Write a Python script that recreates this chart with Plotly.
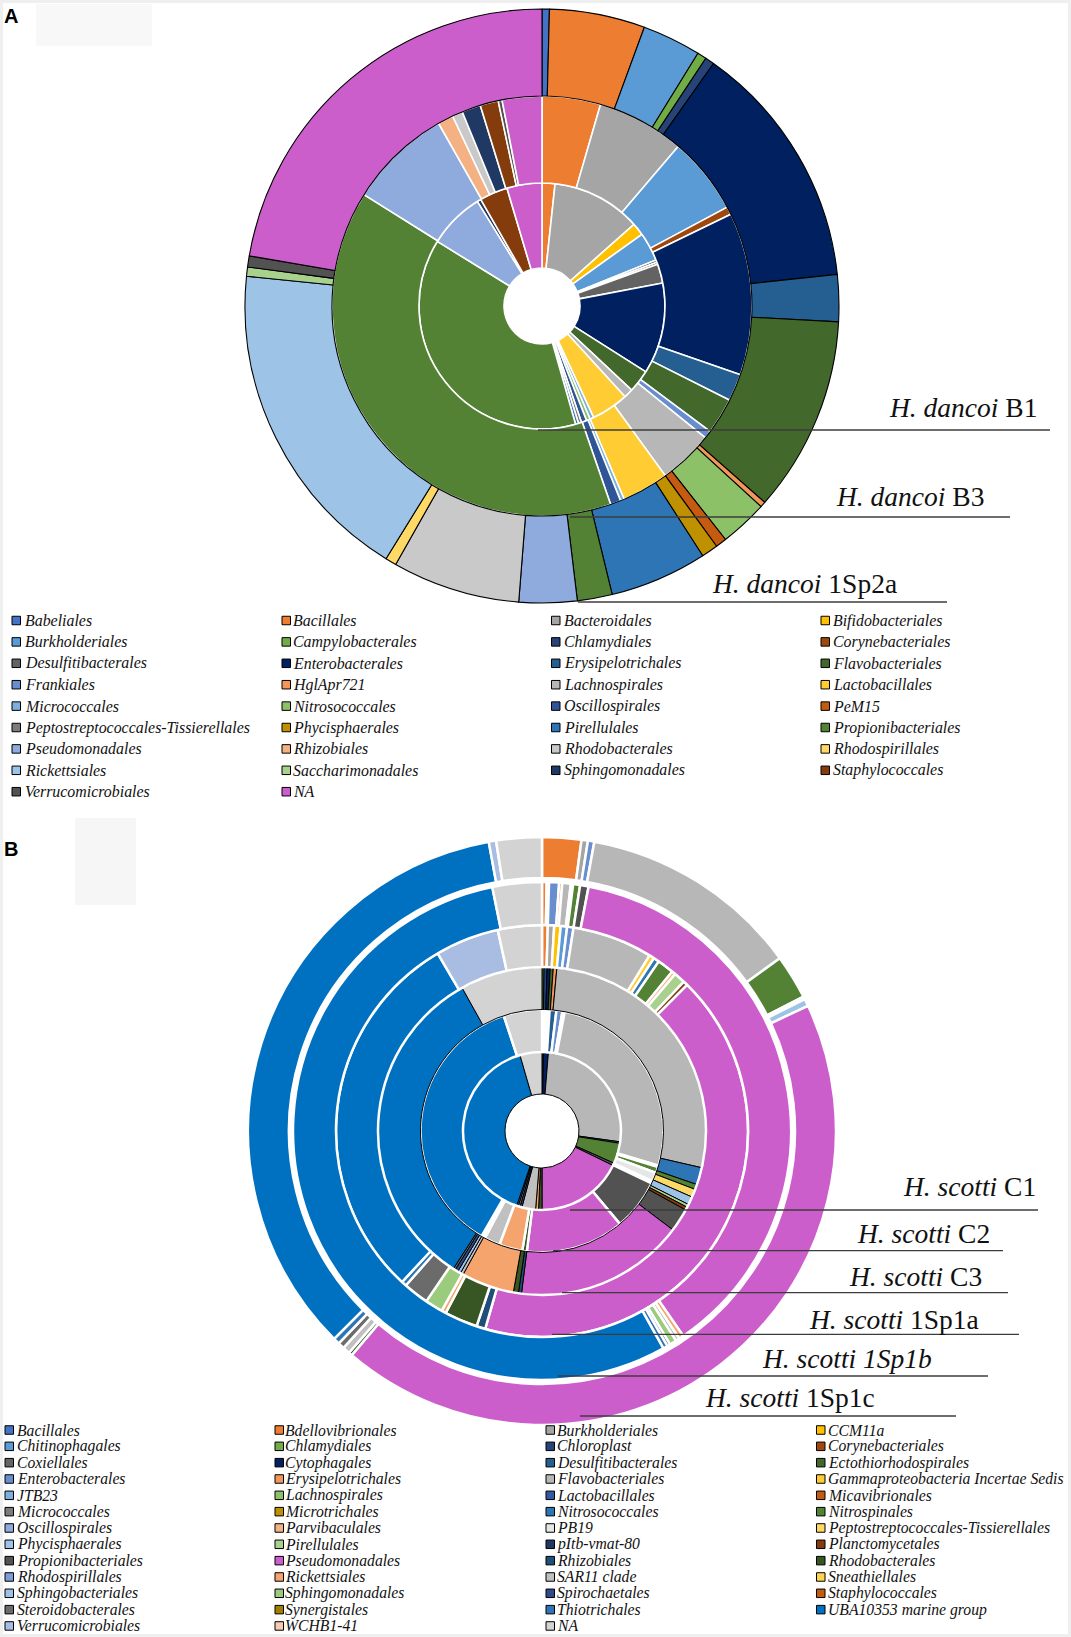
import plotly.graph_objects as go

W, H = 1071, 1637

# ------------------------------------------------------------------
# Panel A data (H. dancoi) : categories, colours, ring values (% of ring)
# ------------------------------------------------------------------
a_categories = ["Babeliales", "Bacillales", "Bacteroidales", "Bifidobacteriales",
                "Burkholderiales", "Campylobacterales", "Chlamydiales", "Corynebacteriales",
                "Desulfitibacterales", "Enterobacterales", "Erysipelotrichales", "Flavobacteriales",
                "Frankiales", "HglApr721", "Lachnospirales", "Lactobacillales",
                "Micrococcales", "Nitrosococcales", "Oscillospirales", "PeM15",
                "Peptostreptococcales-Tissierellales", "Phycisphaerales", "Pirellulales", "Propionibacteriales",
                "Pseudomonadales", "Rhizobiales", "Rhodobacterales", "Rhodospirillales",
                "Rickettsiales", "Saccharimonadales", "Sphingomonadales", "Staphylococcales",
                "Verrucomicrobiales", "NA"]
a_colors = ["#4472C4", "#ED7D31", "#A5A5A5", "#FFC000", "#5B9BD5", "#70AD47", "#264478", "#9E480E",
            "#636363", "#002060", "#255E91", "#43682B", "#698ED0", "#F1975A", "#B7B7B7", "#FFCD33",
            "#7CAFDD", "#8CC168", "#2F5597", "#C55A11", "#7B7B7B", "#BF9000", "#2E75B6", "#548235",
            "#8FAADC", "#F4B183", "#C9C9C9", "#FFD966", "#9DC3E6", "#A9D18E", "#203864", "#843C0C",
            "#525252", "#CC5ECC"]

b1_values = {"Bacillales": 1.7, "Bacteroidales": 11.75, "Bifidobacteriales": 1.65, "Burkholderiales": 3.8,
             "Chlamydiales": 0.3, "Corynebacteriales": 0.3, "Desulfitibacterales": 2.5,
             "Enterobacterales": 12.0, "Flavobacteriales": 3.0, "Lachnospirales": 1.2,
             "Lactobacillales": 4.9, "Micrococcales": 0.5, "Nitrosococcales": 0.5, "Oscillospirales": 0.7,
             "Peptostreptococcales-Tissierellales": 0.4, "Pirellulales": 0.4, "Propionibacteriales": 38.2,
             "Pseudomonadales": 7.4, "Sphingomonadales": 0.5, "Staphylococcales": 3.7, "NA": 4.6}
b3_values = {"Bacillales": 4.5, "Bacteroidales": 6.75, "Burkholderiales": 5.95, "Corynebacteriales": 0.6,
             "Enterobacterales": 12.5, "Erysipelotrichales": 2.1, "Flavobacteriales": 2.8, "Frankiales": 0.6,
             "Lachnospirales": 4.2, "Lactobacillales": 3.6, "Micrococcales": 0.3, "Oscillospirales": 0.8,
             "Propionibacteriales": 39.2, "Pseudomonadales": 7.9, "Rhizobiales": 1.2, "Rhodobacterales": 0.8,
             "Sphingomonadales": 1.45, "Staphylococcales": 1.4, "Verrucomicrobiales": 0.3, "NA": 3.05}
sp2a_values = {"Babeliales": 0.4, "Bacillales": 5.2, "Burkholderiales": 3.2, "Campylobacterales": 0.5,
               "Chlamydiales": 0.5, "Enterobacterales": 13.5, "Erysipelotrichales": 2.55,
               "Flavobacteriales": 10.65, "HglApr721": 0.3, "Nitrosococcales": 2.6, "PeM15": 0.6,
               "Phycisphaerales": 0.9, "Pirellulales": 5.3, "Propionibacteriales": 1.9,
               "Pseudomonadales": 3.15, "Rhodobacterales": 6.95, "Rhodospirillales": 0.6,
               "Rickettsiales": 17.8, "Saccharimonadales": 0.5, "Verrucomicrobiales": 0.6, "NA": 22.3}
a_ring_names = ["<i>H. dancoi</i> B1", "<i>H. dancoi</i> B3", "<i>H. dancoi</i> 1Sp2a"]

# ------------------------------------------------------------------
# Panel B data (H. scotti)
# ------------------------------------------------------------------
b_categories = ["Bacillales", "Bdellovibrionales", "Burkholderiales", "CCM11a",
                "Chitinophagales", "Chlamydiales", "Chloroplast", "Corynebacteriales",
                "Coxiellales", "Cytophagales", "Desulfitibacterales", "Ectothiorhodospirales",
                "Enterobacterales", "Erysipelotrichales", "Flavobacteriales", "Gammaproteobacteria Incertae Sedis",
                "JTB23", "Lachnospirales", "Lactobacillales", "Micavibrionales",
                "Micrococcales", "Microtrichales", "Nitrosococcales", "Nitrospinales",
                "Oscillospirales", "Parvibaculales", "PB19", "Peptostreptococcales-Tissierellales",
                "Phycisphaerales", "Pirellulales", "pItb-vmat-80", "Planctomycetales",
                "Propionibacteriales", "Pseudomonadales", "Rhizobiales", "Rhodobacterales",
                "Rhodospirillales", "Rickettsiales", "SAR11 clade", "Sneathiellales",
                "Sphingobacteriales", "Sphingomonadales", "Spirochaetales", "Staphylococcales",
                "Steroidobacterales", "Synergistales", "Thiotrichales", "UBA10353 marine group",
                "Verrucomicrobiales", "WCHB1-41", "NA"]
b_colors = ["#4472C4", "#ED7D31", "#A5A5A5", "#FFC000", "#5B9BD5", "#70AD47", "#264478", "#9E480E",
            "#636363", "#002060", "#255E91", "#43682B", "#698ED0", "#F1975A", "#B7B7B7", "#FFCD33",
            "#7CAFDD", "#8CC168", "#335AA1", "#C55A11", "#7B7B7B", "#BF9000", "#2E75B6", "#548235",
            "#8FAADC", "#F4B183", "#E7E6E6", "#FFD966", "#9DC3E6", "#A9D18E", "#203864", "#843C0C",
            "#525252", "#CC5ECC", "#1F4E79", "#375623", "#7C9CD6", "#F4A46C", "#C0C0C0", "#FFD54F",
            "#9CC3E5", "#9BCB7C", "#2F4B8C", "#C55A11", "#6B6B6B", "#A07E00", "#2E75B6", "#0070C0",
            "#A9BDE3", "#F8CBAD", "#D3D3D3"]

c1_values = {"Chloroplast": 0.3, "Cytophagales": 1.0, "Flavobacteriales": 25.9, "Nitrosococcales": 0.3,
             "Nitrospinales": 4.2, "Propionibacteriales": 0.5, "Pseudomonadales": 17.8,
             "Rhodobacterales": 0.7, "Rickettsiales": 0.6, "SAR11 clade": 2.8, "Spirochaetales": 0.4,
             "Steroidobacterales": 0.4, "Thiotrichales": 0.3, "UBA10353 marine group": 40.3, "NA": 4.5}
c2_values = {"Chitinophagales": 0.35, "Chloroplast": 0.3, "Corynebacteriales": 0.35,
             "Desulfitibacterales": 0.9, "Enterobacterales": 0.8, "Erysipelotrichales": 0.3,
             "Flavobacteriales": 26.6, "Lachnospirales": 0.2, "Nitrospinales": 0.8, "PB19": 1.2,
             "Phycisphaerales": 0.3, "Propionibacteriales": 6.8, "Pseudomonadales": 13.1,
             "Rhodobacterales": 0.6, "Rickettsiales": 3.1, "SAR11 clade": 2.1, "Spirochaetales": 0.3,
             "Thiotrichales": 0.2, "UBA10353 marine group": 36.6, "NA": 5.1}
c3_values = {"Chlamydiales": 0.2, "Chloroplast": 0.3, "Cytophagales": 0.3, "Ectothiorhodospirales": 0.3,
             "Erysipelotrichales": 0.35, "Flavobacteriales": 27.15, "Nitrosococcales": 1.7,
             "Nitrospinales": 0.5, "Peptostreptococcales-Tissierellales": 0.8, "Phycisphaerales": 0.8,
             "Pirellulales": 0.3, "Planctomycetales": 0.3, "Propionibacteriales": 2.3,
             "Pseudomonadales": 16.7, "Rhizobiales": 0.3, "Rhodobacterales": 0.5, "Rickettsiales": 5.2,
             "SAR11 clade": 0.3, "Sphingobacteriales": 0.3, "Spirochaetales": 0.3,
             "Steroidobacterales": 0.2, "UBA10353 marine group": 32.8, "NA": 8.1}
sp1a_values = {"Bdellovibrionales": 0.45, "Burkholderiales": 0.5, "CCM11a": 0.5, "Chitinophagales": 0.5,
               "Enterobacterales": 0.5, "Flavobacteriales": 6.3, "Gammaproteobacteria Incertae Sedis": 0.4,
               "Nitrosococcales": 0.45, "Nitrospinales": 1.3, "Parvibaculales": 0.3, "Pirellulales": 0.9,
               "Planctomycetales": 0.35, "Pseudomonadales": 42.0, "Rhizobiales": 0.7,
               "Rhodobacterales": 2.6, "Rickettsiales": 0.35, "Sphingomonadales": 1.4,
               "Steroidobacterales": 2.0, "Thiotrichales": 0.4, "UBA10353 marine group": 29.65,
               "Verrucomicrobiales": 5.0, "NA": 3.45}
sp1b_values = {"Bdellovibrionales": 0.3, "Burkholderiales": 0.15, "Enterobacterales": 0.65,
               "Erysipelotrichales": 0.2, "Flavobacteriales": 0.55, "Lachnospirales": 0.15,
               "Nitrospinales": 0.45, "Propionibacteriales": 0.55, "Pseudomonadales": 37.4,
               "Rickettsiales": 0.3, "SAR11 clade": 0.25, "Sphingomonadales": 0.45, "Spirochaetales": 0.2,
               "Thiotrichales": 0.3, "UBA10353 marine group": 54.9, "NA": 3.2}
sp1c_values = {"Bdellovibrionales": 2.15, "Burkholderiales": 0.35, "Enterobacterales": 0.35,
               "Flavobacteriales": 12.15, "Nitrospinales": 2.45, "PB19": 0.15, "Phycisphaerales": 0.4,
               "Pseudomonadales": 43.2, "Rhodobacterales": 0.2, "SAR11 clade": 0.4,
               "Steroidobacterales": 0.35, "Thiotrichales": 0.35, "UBA10353 marine group": 34.6,
               "Verrucomicrobiales": 0.4, "NA": 2.5}
b_ring_names = ["<i>H. scotti</i> C1", "<i>H. scotti</i> C2", "<i>H. scotti</i> C3",
                "<i>H. scotti</i> 1Sp1a", "<i>H. scotti 1Sp1b</i>", "<i>H. scotti</i> 1Sp1c"]


# ------------------------------------------------------------------
def px(x):
    return x / W


def py(y):
    return 1 - y / H


def ring(values, categories, colors, name, cx, cy, r_in, r_out, lc, lw):
    labels = [c for c in categories if values.get(c, 0) > 0]
    vals = [values[c] for c in labels]
    cols = [colors[categories.index(c)] for c in labels]
    return go.Pie(labels=labels, values=vals, name=name,
                  marker=dict(colors=cols, line=dict(color=lc, width=lw)),
                  hole=r_in / r_out, sort=False, direction="clockwise", rotation=0,
                  textinfo="none", hoverinfo="label+value", showlegend=False,
                  domain=dict(x=[px(cx - r_out), px(cx + r_out)],
                              y=[py(cy + r_out), py(cy - r_out)]))


fig = go.Figure()

# Panel A rings (inner -> outer)
A_CX, A_CY = 542, 306
a_rings = [(b1_values, 38, 123, "white", 1.6),
           (b3_values, 123, 210, "white", 1.6),
           (sp2a_values, 210, 297, "black", 1.1)]
for (vals, ri, ro, lc, lw), nm in zip(a_rings, a_ring_names):
    fig.add_trace(ring(vals, a_categories, a_colors, nm, A_CX, A_CY, ri, ro, lc, lw))

# Panel B rings (inner -> outer)
B_CX, B_CY = 542, 1131
b_rings = [(c1_values, 37, 79, "black", 1.0),
           (c2_values, 79, 121.5, "white", 2.5),
           (c3_values, 121.5, 164, "black", 1.0),
           (sp1a_values, 164, 206, "white", 2.5),
           (sp1b_values, 206, 249, "white", 2.5),
           (sp1c_values, 253, 294, "white", 2.5)]
for (vals, ri, ro, lc, lw), nm in zip(b_rings, b_ring_names):
    fig.add_trace(ring(vals, b_categories, b_colors, nm, B_CX, B_CY, ri, ro, lc, lw))

shapes = []
annotations = []
SERIF = "Liberation Serif, Times New Roman, serif"

# sample labels with leader lines: (x_start, x_end, y_line, text_right, text_center_y)
a_label_pos = [(538, 1050, 430, 1039, 407.5), (570, 1010, 517, 986, 496), (578, 947, 602, 899, 583)]
b_label_pos = [(570, 1038, 1210, 1038, 1186), (553, 1003, 1250.7, 992, 1233.6),
               (562, 1008, 1292.7, 984, 1276.6), (552, 1019, 1334.3, 981, 1319.6),
               (558, 988, 1376, 934, 1358.6), (580, 956, 1416, 877, 1397.6)]
for names, pos, fs in [(a_ring_names, a_label_pos, 27.5), (b_ring_names, b_label_pos, 27.5)]:
    for nm, (x0, x1, yl, xt, yt) in zip(names, pos):
        shapes.append(dict(type="line", xref="paper", yref="paper", x0=px(x0), x1=px(x1),
                           y0=py(yl), y1=py(yl), line=dict(color="#3C3C3C", width=1.3)))
        annotations.append(dict(text=nm, xref="paper", yref="paper", x=px(xt), y=py(yt),
                                xanchor="right", yanchor="middle", showarrow=False,
                                font=dict(family=SERIF, size=fs, color="#111111")))


# legends
def add_legend(categories, colors, sw_x, tx_x, y0, dy, sw, fs):
    for i, (cat, col) in enumerate(zip(categories, colors)):
        r, c = divmod(i, 4)
        y = y0 + r * dy
        shapes.append(dict(type="rect", xref="paper", yref="paper",
                           x0=px(sw_x[c]), x1=px(sw_x[c] + sw), y0=py(y + sw / 2), y1=py(y - sw / 2),
                           fillcolor=col, line=dict(color="black", width=1)))
        annotations.append(dict(text="<i>" + cat + "</i>", xref="paper", yref="paper",
                                x=px(tx_x[c] - 2), y=py(y), xanchor="left", yanchor="middle",
                                showarrow=False, font=dict(family=SERIF, size=fs, color="#111111")))


add_legend(a_categories, a_colors, [12, 282, 551.5, 821], [25, 293, 563.5, 833], 620.5, 21.4, 8.5, 15.9)
add_legend(b_categories, b_colors, [5, 275, 546, 816.5], [16.5, 284.5, 557, 827.5], 1430, 16.33, 8.5, 15.7)

# panel letters and light patches
for letter, y in [("A", 16), ("B", 849)]:
    annotations.append(dict(text="<b>" + letter + "</b>", xref="paper", yref="paper", x=px(2), y=py(y),
                            xanchor="left", yanchor="middle", showarrow=False,
                            font=dict(family="Liberation Sans, Arial, sans-serif", size=20, color="black")))
shapes.append(dict(type="rect", xref="paper", yref="paper", x0=px(36), x1=px(152), y0=py(46), y1=py(4),
                   fillcolor="#F8F8F8", line=dict(width=0), layer="below"))
shapes.append(dict(type="rect", xref="paper", yref="paper", x0=px(75), x1=px(136), y0=py(905), y1=py(818),
                   fillcolor="#F6F6F6", line=dict(width=0), layer="below"))
shapes.append(dict(type="rect", xref="paper", yref="paper", x0=0, x1=1, y0=0, y1=1,
                   line=dict(color="#EFEFEF", width=6), fillcolor="rgba(0,0,0,0)"))

fig.update_layout(width=W, height=H, margin=dict(l=0, r=0, t=0, b=0),
                  paper_bgcolor="white", plot_bgcolor="white",
                  shapes=shapes, annotations=annotations, showlegend=False)

fig.write_html("out.html", config={"displayModeBar": False},
               post_script="document.body.style.margin='0px';")
